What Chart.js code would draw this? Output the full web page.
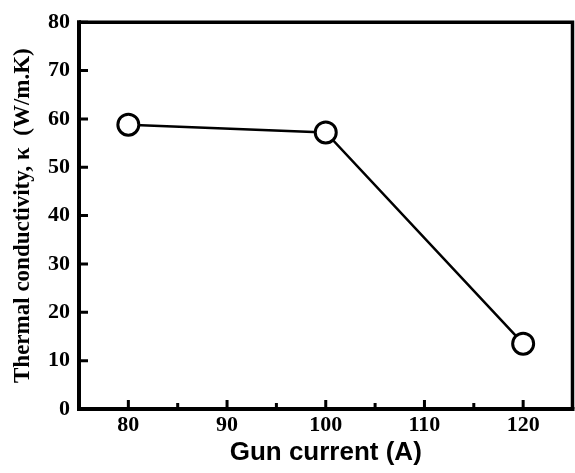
<!DOCTYPE html>
<html>
<head>
<meta charset="utf-8">
<script src="https://cdn.jsdelivr.net/npm/chart.js@4"></script>
<style>
  html, body { margin: 0; padding: 0; background: #fff; }
  #wrap { width: 575px; height: 473px; }
</style>
</head>
<body>
<div id="wrap"><canvas id="chart"></canvas></div>
<script>
// Data
const gunCurrent = [80, 100, 120];
const conductivity = [58.8, 57.2, 13.5];
const xMajorTicks = [80, 90, 100, 110, 120];
const xMinorTicks = [85, 95, 105, 115];
const yMajorTicks = [0, 10, 20, 30, 40, 50, 60, 70, 80];

// Frame and inward tick marks, placed through the chart scales
const frameTicks = {
  id: 'frameTicks',
  afterDatasetsDraw(chart) {
    const { ctx, chartArea: a, scales: { x, y } } = chart;
    ctx.save();
    ctx.strokeStyle = '#000';
    ctx.lineWidth = 3;
    ctx.beginPath();
    xMajorTicks.forEach(v => {
      const px = x.getPixelForValue(v);
      ctx.moveTo(px, a.bottom);
      ctx.lineTo(px, a.bottom - 9);
    });
    xMinorTicks.forEach(v => {
      const px = x.getPixelForValue(v);
      ctx.moveTo(px, a.bottom);
      ctx.lineTo(px, a.bottom - 6);
    });
    yMajorTicks.forEach(v => {
      const py = y.getPixelForValue(v);
      ctx.moveTo(a.left, py);
      ctx.lineTo(a.left + 9, py);
    });
    ctx.stroke();
    // top and right
    ctx.lineWidth = 3.5;
    ctx.beginPath();
    ctx.moveTo(a.left, a.top);
    ctx.lineTo(a.right, a.top);
    ctx.lineTo(a.right, a.bottom);
    ctx.stroke();
    // axes
    ctx.lineWidth = 4;
    ctx.beginPath();
    ctx.moveTo(a.left, a.top - 2);
    ctx.lineTo(a.left, a.bottom);
    ctx.lineTo(a.right + 2, a.bottom);
    ctx.stroke();
    ctx.restore();
  }
};

new Chart(document.getElementById('chart'), {
  type: 'scatter',
  data: {
    datasets: [{
      data: gunCurrent.map((g, i) => ({ x: g, y: conductivity[i] })),
      showLine: true,
      borderColor: '#000',
      borderWidth: 2.5,
      pointRadius: 10.5,
      pointBorderWidth: 3,
      pointBackgroundColor: '#fff',
      pointBorderColor: '#000'
    }]
  },
  options: {
    responsive: true,
    maintainAspectRatio: false,
    animation: false,
    layout: { autoPadding: false, padding: { top: 20, right: 2.5, left: 0, bottom: 0 } },
    plugins: { legend: { display: false }, tooltip: { enabled: false } },
    scales: {
      x: {
        type: 'linear',
        min: 75,
        max: 125,
        afterBuildTicks: s => { s.ticks = xMajorTicks.map(v => ({ value: v })); },
        afterFit: s => { s.height = 64; },
        grid: { display: false, drawTicks: false },
        border: { display: false },
        ticks: {
          color: '#000',
          padding: 3,
          font: { family: 'Liberation Serif', size: 22, weight: 'bold' }
        },
        title: {
          display: true,
          text: 'Gun current (A)',
          color: '#000',
          padding: { top: 0, bottom: 5 },
          font: { family: 'Liberation Sans', size: 26, weight: 'bold' }
        }
      },
      y: {
        min: 0,
        max: 80,
        afterBuildTicks: s => { s.ticks = yMajorTicks.map(v => ({ value: v })); },
        afterFit: s => { s.width = 79; },
        grid: { display: false, drawTicks: false },
        border: { display: false },
        ticks: {
          color: '#000',
          padding: 9,
          font: { family: 'Liberation Serif', size: 22, weight: 'bold' }
        },
        title: {
          display: true,
          text: 'Thermal conductivity, κ  (W/m.K)',
          color: '#000',
          padding: { top: 9, bottom: 0 },
          font: { family: 'Liberation Serif', size: 23, weight: 'bold' }
        }
      }
    }
  },
  plugins: [frameTicks]
});
</script>
</body>
</html>
